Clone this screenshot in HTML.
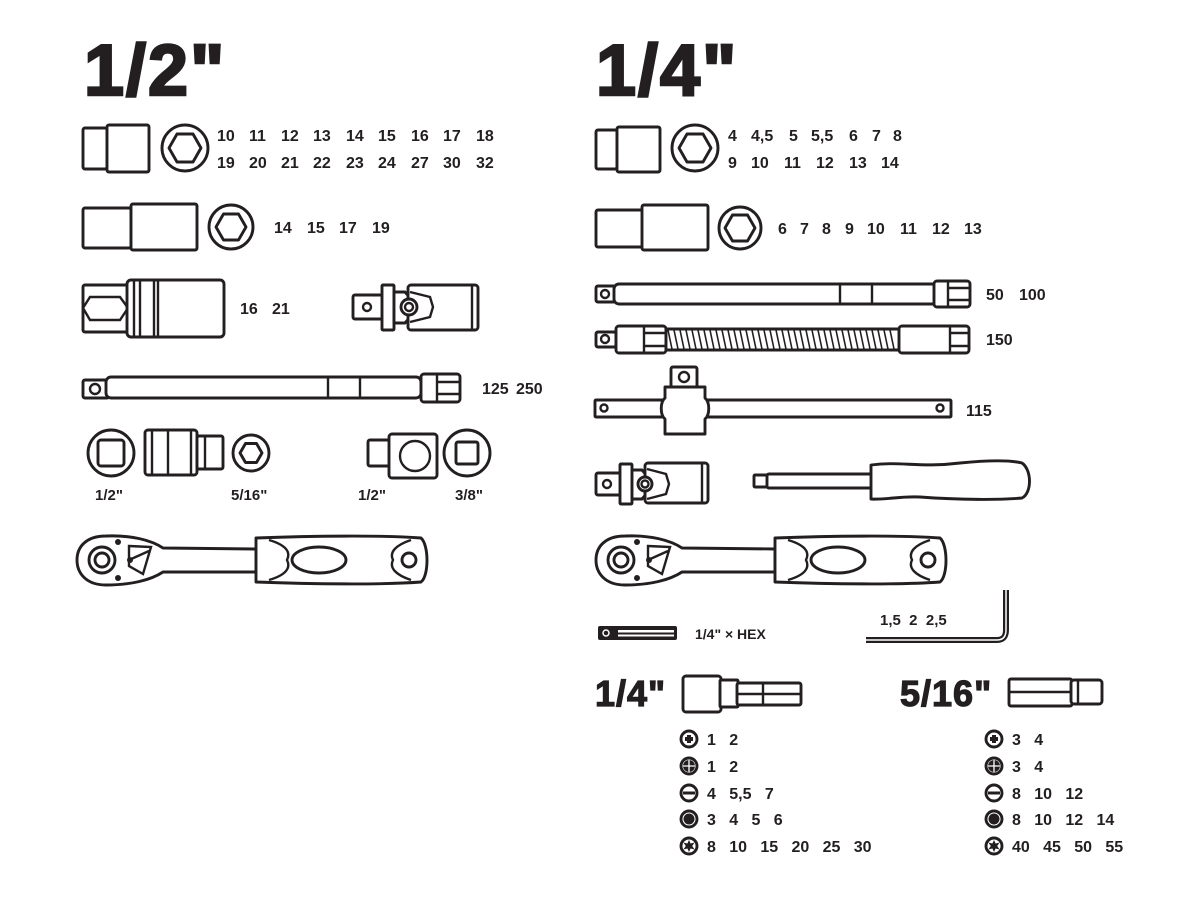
<!DOCTYPE html>
<html><head><meta charset="utf-8"><style>
html,body{margin:0;padding:0;background:#fff}
svg{display:block}
text{font-family:"Liberation Sans",sans-serif;font-weight:bold;fill:#231f20}
.s{fill:#fff;stroke:#231f20;stroke-width:2.9;stroke-linejoin:round}
.t{fill:none;stroke:#231f20;stroke-width:2.4}
.n{font-size:16px}
.big{font-size:72px;stroke:#231f20;stroke-width:2.5;letter-spacing:2px}
.mid{font-size:36px;stroke:#231f20;stroke-width:1.2;letter-spacing:1px}
</style></head><body>
<svg width="1200" height="900" viewBox="0 0 1200 900" xmlns="http://www.w3.org/2000/svg">
<defs>
<g id="ratchet">
 <path class="s" d="M625,536 C650,535 670,540 682,548 L775,549 L775,572 L682,572 C670,580 650,585 625,585 C605,585 596,573 596,560 C596,547 605,536 625,536 Z"/>
 <circle class="s" cx="621" cy="560" r="13"/><circle class="s" cx="621" cy="560" r="7"/>
 <circle cx="637" cy="542" r="3" fill="#231f20"/><circle cx="637" cy="578" r="3" fill="#231f20"/>
 <path class="t" d="M648,546 L670,547 L662,574 L648,566 Z M648,560 L668,551"/>
 <circle cx="649" cy="560" r="3" fill="#231f20"/>
 <path class="s" d="M775,538 C830,536 900,535 940,538 C948,545 948,576 940,582 C900,585 830,584 775,582 Z"/>
 <path class="t" d="M788,540 C805,545 810,552 806,560 C810,568 805,575 788,580 M930,540 C915,545 908,552 912,560 C908,568 915,575 930,580"/>
 <ellipse class="s" cx="838" cy="560" rx="27" ry="13"/>
 <circle class="s" cx="928" cy="560" r="7"/>
</g>
</defs>

<text x="84" y="95" class="big">1/2"</text>
<text x="596" y="95" class="big">1/4"</text>

<!-- LEFT row1 -->
<rect class="s" x="83" y="128" width="24" height="41" rx="2"/>
<rect class="s" x="107" y="125" width="42" height="47" rx="2"/>
<circle class="s" cx="185" cy="148" r="23"/>
<polygon class="s" points="201,148 193,162 177,162 169,148 177,134 193,134"/>
<g class="n">
<text x="217" y="141">10</text><text x="249" y="141">11</text><text x="281" y="141">12</text><text x="313" y="141">13</text><text x="346" y="141">14</text><text x="378" y="141">15</text><text x="411" y="141">16</text><text x="443" y="141">17</text><text x="476" y="141">18</text>
<text x="217" y="168">19</text><text x="249" y="168">20</text><text x="281" y="168">21</text><text x="313" y="168">22</text><text x="346" y="168">23</text><text x="378" y="168">24</text><text x="411" y="168">27</text><text x="443" y="168">30</text><text x="476" y="168">32</text>
</g>
<rect class="s" x="83" y="208" width="48" height="40" rx="2"/>
<rect class="s" x="131" y="204" width="66" height="46" rx="2"/>
<circle class="s" cx="231" cy="227" r="22"/>
<polygon class="s" points="246,227 238.5,240 223.5,240 216,227 223.5,214 238.5,214"/>
<g class="n"><text x="274" y="233">14</text><text x="307" y="233">15</text><text x="339" y="233">17</text><text x="372" y="233">19</text></g>
<rect class="s" x="83" y="285" width="45" height="47" rx="2"/>
<path class="t" d="M83,308 L90,297 L120,297 L128,308 L120,320 L90,320 Z"/>
<rect class="s" x="127" y="280" width="97" height="57" rx="4"/>
<path class="t" d="M134,281 V336 M140,281 V336 M154,281 V336 M158,281 V336"/>
<g class="n"><text x="240" y="314">16</text><text x="272" y="314">21</text></g>
<rect class="s" x="353" y="295" width="30" height="24" rx="2"/>
<circle class="t" cx="367" cy="307" r="4"/>
<rect class="s" x="382" y="285" width="12" height="45" rx="1"/>
<path class="s" d="M394,292 L405,292 L412,300 L412,315 L405,323 L394,323 Z"/>
<rect class="s" x="408" y="285" width="70" height="45" rx="3"/>
<path class="t" d="M410,292 L430,297 L433,307 L430,317 L410,322 M472,286 V329"/>
<circle class="s" cx="409" cy="307" r="8"/><circle class="t" cx="409" cy="307" r="4"/>
<rect class="s" x="83" y="380" width="26" height="18" rx="2"/>
<circle class="t" cx="95" cy="389" r="5"/>
<rect class="s" x="106" y="377" width="315" height="21" rx="5"/>
<path class="t" d="M328,378 V397 M360,378 V397"/>
<rect class="s" x="421" y="374" width="39" height="28" rx="3"/>
<path class="t" d="M437,375 V401 M437,382 H459 M437,394 H459"/>
<g class="n"><text x="482" y="394">125</text><text x="516" y="394">250</text></g>
<circle class="s" cx="111" cy="453" r="23"/>
<rect class="s" x="98" y="440" width="26" height="26" rx="3"/>
<rect class="s" x="145" y="430" width="52" height="45" rx="3"/>
<path class="t" d="M152,431 V474 M168,431 V474 M191,431 V474"/>
<rect class="s" x="197" y="436" width="26" height="33" rx="2"/>
<path class="t" d="M205,437 V468"/>
<circle class="s" cx="251" cy="453" r="18"/>
<polygon class="s" points="262,453 256.5,462.5 245.5,462.5 240,453 245.5,443.5 256.5,443.5"/>
<g style="font-size:15px"><text x="95" y="500">1/2"</text><text x="231" y="500">5/16"</text><text x="358" y="500">1/2"</text><text x="455" y="500">3/8"</text></g>
<rect class="s" x="368" y="440" width="22" height="26" rx="2"/>
<rect class="s" x="389" y="434" width="48" height="44" rx="3"/>
<circle class="t" cx="415" cy="456" r="15"/>
<circle class="s" cx="467" cy="453" r="23"/>
<rect class="s" x="456" y="442" width="22" height="22" rx="2"/>
<use href="#ratchet" transform="translate(-519,0)"/>

<!-- RIGHT -->
<rect class="s" x="596" y="130" width="21" height="39" rx="2"/>
<rect class="s" x="617" y="127" width="43" height="45" rx="2"/>
<circle class="s" cx="695" cy="148" r="23"/>
<polygon class="s" points="711,148 703,162 687,162 679,148 687,134 703,134"/>
<g class="n">
<text x="728" y="141">4</text><text x="751" y="141">4,5</text><text x="789" y="141">5</text><text x="811" y="141">5,5</text><text x="849" y="141">6</text><text x="872" y="141">7</text><text x="893" y="141">8</text>
<text x="728" y="168">9</text><text x="751" y="168">10</text><text x="784" y="168">11</text><text x="816" y="168">12</text><text x="849" y="168">13</text><text x="881" y="168">14</text>
</g>
<rect class="s" x="596" y="210" width="47" height="37" rx="2"/>
<rect class="s" x="642" y="205" width="66" height="45" rx="2"/>
<circle class="s" cx="740" cy="228" r="21"/>
<polygon class="s" points="755,228 747.5,241 732.5,241 725,228 732.5,215 747.5,215"/>
<g class="n"><text x="778" y="234">6</text><text x="800" y="234">7</text><text x="822" y="234">8</text><text x="845" y="234">9</text><text x="867" y="234">10</text><text x="900" y="234">11</text><text x="932" y="234">12</text><text x="964" y="234">13</text></g>
<rect class="s" x="596" y="286" width="20" height="16" rx="2"/><circle class="t" cx="605" cy="294" r="4"/>
<rect class="s" x="614" y="284" width="340" height="20" rx="5"/>
<path class="t" d="M840,285 V303 M872,285 V303"/>
<rect class="s" x="934" y="281" width="36" height="26" rx="3"/>
<path class="t" d="M948,282 V306 M948,288 H969 M948,300 H969"/>
<g class="n"><text x="986" y="300">50</text><text x="1019" y="300">100</text></g>
<rect class="s" x="596" y="332" width="20" height="15" rx="2"/><circle class="t" cx="605" cy="339" r="4"/>
<rect class="s" x="616" y="326" width="50" height="27" rx="3"/>
<path class="t" d="M644,327 V352 M644,333 H665 M644,346 H665"/>
<rect class="s" x="666" y="329" width="234" height="21"/>
<path d="M668,330 l4,19 M674,330 l4,19 M680,330 l4,19 M686,330 l4,19 M692,330 l4,19 M698,330 l4,19 M704,330 l4,19 M710,330 l4,19 M716,330 l4,19 M722,330 l4,19 M728,330 l4,19 M734,330 l4,19 M740,330 l4,19 M746,330 l4,19 M752,330 l4,19 M758,330 l4,19 M764,330 l4,19 M770,330 l4,19 M776,330 l4,19 M782,330 l4,19 M788,330 l4,19 M794,330 l4,19 M800,330 l4,19 M806,330 l4,19 M812,330 l4,19 M818,330 l4,19 M824,330 l4,19 M830,330 l4,19 M836,330 l4,19 M842,330 l4,19 M848,330 l4,19 M854,330 l4,19 M860,330 l4,19 M866,330 l4,19 M872,330 l4,19 M878,330 l4,19 M884,330 l4,19 M890,330 l4,19" stroke="#231f20" stroke-width="1.6"/>
<rect class="s" x="899" y="326" width="70" height="27" rx="3"/>
<path class="t" d="M950,327 V352 M950,333 H968 M950,346 H968"/>
<text class="n" x="986" y="345">150</text>
<rect class="s" x="595" y="400" width="356" height="17" rx="1"/>
<circle class="t" cx="604" cy="408" r="3.5"/><circle class="t" cx="940" cy="408" r="3.5"/>
<rect class="s" x="671" y="367" width="26" height="22" rx="2"/><circle class="t" cx="684" cy="377" r="5"/>
<path class="s" d="M665,387 H705 V398 C710,402 710,415 705,419 V434 H665 V419 C660,415 660,402 665,398 Z"/>
<text class="n" x="966" y="416">115</text>
<rect class="s" x="596" y="473" width="25" height="22" rx="2"/><circle class="t" cx="607" cy="484" r="4"/>
<rect class="s" x="620" y="464" width="12" height="40" rx="1"/>
<path class="s" d="M632,470 L642,470 L648,477 L648,492 L642,499 L632,499 Z"/>
<rect class="s" x="645" y="463" width="63" height="40" rx="3"/>
<path class="t" d="M647,469 L666,474 L669,484 L666,494 L647,499 M702,464 V502"/>
<circle class="s" cx="645" cy="484" r="7"/><circle class="t" cx="645" cy="484" r="3.5"/>
<rect class="s" x="754" y="475" width="14" height="12" rx="1"/>
<rect class="s" x="767" y="474" width="105" height="14" rx="2"/>
<path class="s" d="M871,465 C900,461 920,468 960,463 C990,460 1010,460 1022,463 C1032,470 1032,493 1022,498 C1000,500 960,500 920,497 C900,496 885,500 871,499 Z"/>
<use href="#ratchet"/>
<rect x="598" y="626" width="79" height="14" rx="2" fill="#231f20"/>
<rect x="618" y="630" width="56" height="2.5" fill="#fff"/><rect x="618" y="634.5" width="56" height="2" fill="#fff"/>
<circle cx="606" cy="633" r="3" fill="none" stroke="#fff" stroke-width="1.5"/>
<text x="695" y="639" style="font-size:14px">1/4" × HEX</text>
<path d="M866,640 H997 Q1006,640 1006,630 V590" fill="none" stroke="#231f20" stroke-width="6"/>
<path d="M866,640 H997 Q1006,640 1006,630 V590" fill="none" stroke="#fff" stroke-width="1.5"/>
<text x="880" y="625" style="font-size:15px">1,5&#160;&#160;2&#160;&#160;2,5</text>
<text x="595" y="706" class="mid">1/4"</text>
<rect class="s" x="683" y="676" width="38" height="36" rx="3"/>
<rect class="s" x="720" y="680" width="18" height="27" rx="1"/>
<rect class="s" x="737" y="683" width="64" height="22" rx="2"/>
<path class="t" d="M738,694 H800 M763,684 V704"/>
<text x="900" y="706" class="mid">5/16"</text>
<rect class="s" x="1009" y="679" width="63" height="27" rx="2"/>
<path class="t" d="M1010,692 H1071"/>
<rect class="s" x="1071" y="680" width="31" height="24" rx="3"/>
<path class="t" d="M1078,681 V703"/>
<g id="icons">
<circle class="s" cx="689" cy="739" r="8"/><path d="M685,739 h8 M689,735 v8" stroke="#231f20" stroke-width="4"/>
<circle class="s" cx="689" cy="766" r="8"/><circle cx="689" cy="766" r="6" fill="#231f20"/><path d="M689,760 v12 M683,766 h12" stroke="#fff" stroke-width="1.3"/>
<circle class="s" cx="689" cy="793" r="8"/><path d="M683,793 h12" stroke="#231f20" stroke-width="3"/>
<circle class="s" cx="689" cy="819" r="8"/><circle cx="689" cy="819" r="5.5" fill="#231f20"/>
<circle class="s" cx="689" cy="846" r="8"/><path d="M689,840 l1.6,3.5 4-1 -2.4,3.5 2.4,3.5 -4,-1 -1.6,3.5 -1.6,-3.5 -4,1 2.4,-3.5 -2.4,-3.5 4,1 z" fill="#231f20"/>
</g>
<use href="#icons" transform="translate(305,0)"/>
<g class="n">
<text x="707" y="745">1&#160;&#160;&#160;2</text>
<text x="707" y="772">1&#160;&#160;&#160;2</text>
<text x="707" y="799">4&#160;&#160;&#160;5,5&#160;&#160;&#160;7</text>
<text x="707" y="825">3&#160;&#160;&#160;4&#160;&#160;&#160;5&#160;&#160;&#160;6</text>
<text x="707" y="852">8&#160;&#160;&#160;10&#160;&#160;&#160;15&#160;&#160;&#160;20&#160;&#160;&#160;25&#160;&#160;&#160;30</text>
<text x="1012" y="745">3&#160;&#160;&#160;4</text>
<text x="1012" y="772">3&#160;&#160;&#160;4</text>
<text x="1012" y="799">8&#160;&#160;&#160;10&#160;&#160;&#160;12</text>
<text x="1012" y="825">8&#160;&#160;&#160;10&#160;&#160;&#160;12&#160;&#160;&#160;14</text>
<text x="1012" y="852">40&#160;&#160;&#160;45&#160;&#160;&#160;50&#160;&#160;&#160;55</text>
</g>
</svg>
</body></html>
